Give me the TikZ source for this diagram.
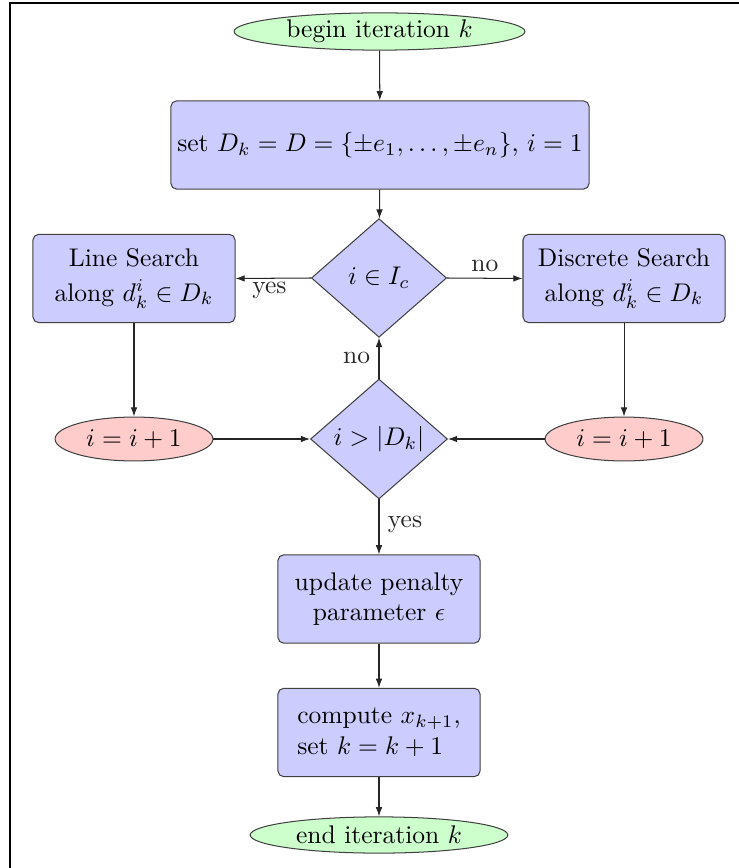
\documentclass[tikz,border=0pt]{standalone}
\usetikzlibrary{shapes.geometric,arrows.meta}
\begin{document}
\begin{tikzpicture}[x=0.392pt,y=-0.392pt,
  box/.style={draw=black!75, fill=blue!20, rounded corners=2.2pt, inner sep=0pt, align=center, minimum width=79.2pt, minimum height=34.6pt},
  term/.style={draw=black!75, fill=green!20, ellipse, inner sep=0pt},
  incr/.style={draw=black!75, fill=red!20, ellipse, inner sep=0pt, minimum width=61.9pt, minimum height=17.2pt},
  decision/.style={draw=black!75, fill=blue!20, diamond, inner sep=0pt, minimum width=53pt, minimum height=46.5pt},
  conn/.style={-{Latex[length=3.6pt,width=2.6pt]}, black!85, line width=0.4pt}
]
\useasboundingbox (0,0) rectangle (739,868);
\draw[line width=0.8pt] (10,870) -- (10,3) -- (741,3);

\node[term, minimum width=114pt, minimum height=14.6pt] (begin) at (379.5,31.5) {begin iteration $k$};
\node[box, minimum width=163.9pt] (set) at (380,145) {set $D_k = D = \{\pm e_1, \ldots, \pm e_n\}$, $i = 1$};
\node[decision] (d1) at (379,278) {$i \in I_c$};
\node[box] (ls) at (134,278.5) {Line Search\\[1.5pt] along $d_k^i \in D_k$};
\node[box] (ds) at (624,278.5) {Discrete Search\\[1.5pt] along $d_k^i \in D_k$};
\node[incr] (le) at (134,439) {$i = i + 1$};
\node[incr] (re) at (624,439) {$i = i + 1$};
\node[decision, minimum width=53.7pt, minimum height=47pt] (d2) at (379,439) {$i > |D_k|$};
\node[box] (upd) at (379,599) {update penalty\\ parameter $\epsilon$};
\node[box, align=left] (comp) at (379,732.5) {compute $x_{k+1}$,\\ set $k = k + 1$};
\node[term, minimum width=101pt, minimum height=14.2pt] (end) at (379,835) {end iteration $k$};

\draw[conn] (begin) -- (set);
\draw[conn] (set) -- (d1);
\draw[conn] (d1.west) -- node[pos=0.55, yshift=-4.8pt] {yes} (ls.east);
\draw[conn] (d1.east) -- node[pos=0.5, yshift=4.8pt] {no} (ds.west);
\draw[conn] (ls) -- (le);
\draw[conn] (ds) -- (re);
\draw[conn] (le) -- (d2.west);
\draw[conn] (re) -- (d2.east);
\draw[conn] (d2.north) -- node[pos=0.5, xshift=-8.8pt] {no} (d1.south);
\draw[conn] (d2.south) -- node[pos=0.46, xshift=10.2pt] {yes} (upd.north);
\draw[conn] (upd) -- (comp);
\draw[conn] (comp) -- (end);
\end{tikzpicture}
\end{document}
